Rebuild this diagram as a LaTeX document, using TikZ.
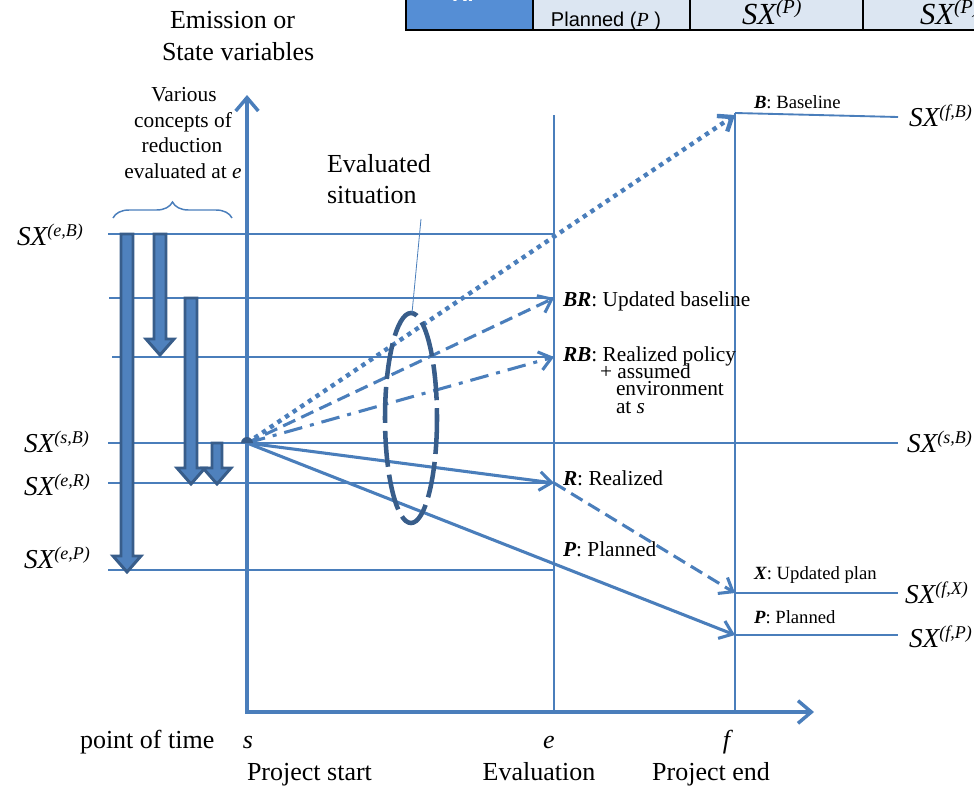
\documentclass[tikz,border=0pt]{standalone}
\usepackage{fontspec}
\setmainfont{Liberation Serif}
\setsansfont{Liberation Sans}
\usetikzlibrary{arrows.meta,decorations.pathreplacing}

\definecolor{lineblue}{HTML}{4A7EBB}
\definecolor{darkblue}{HTML}{385D8A}
\definecolor{fillblue}{HTML}{4F81BD}
\definecolor{cellblue}{HTML}{558ED5}
\definecolor{celllight}{HTML}{DCE6F2}

% state variable label  SX^(...)
\newcommand\sxlab[1]{{\fontsize{20.5}{24}\selectfont\itshape SX\raisebox{6.5pt}{\fontsize{13.5}{14}\selectfont(#1)}}}

\begin{document}
\begin{tikzpicture}[x=0.75pt,y=-0.75pt,
  every node/.style={inner sep=0pt,outer sep=0pt},
  grid/.style={lineblue,line width=1.9pt},
  timeline/.style={lineblue,line width=1.4pt},
  axis/.style={lineblue,line width=2.6pt,line join=miter,
    {Straight Barb[length=10pt,width=17pt]}-{Straight Barb[length=10pt,width=17pt]}},
  ray/.style={lineblue,line width=2.3pt,-{Straight Barb[length=9pt,width=14pt]}},
  dotray/.style={ray,line width=3.3pt,dash pattern=on 3.3pt off 3.6pt},
  dashray/.style={ray,dash pattern=on 10pt off 5pt},
  dashdotray/.style={ray,dash pattern=on 14pt off 6pt on 3pt off 6pt},
  blockarrow/.style={draw=darkblue,fill=fillblue,line width=2.2pt,line join=miter},
  situation/.style={darkblue,line width=3.4pt,dash pattern=on 27pt off 6pt},
  leader/.style={lineblue,line width=0.6pt},
  bracket/.style={lineblue,line width=1.1pt,decorate,decoration={brace,amplitude=12pt}},
  tablerule/.style={black,line width=2.2pt},
  biglab/.style={font=\fontsize{19.5}{23}\selectfont},
  midlab/.style={font=\fontsize{16}{19}\selectfont,anchor=base west},
  endlab/.style={font=\fontsize{14}{17}\selectfont,anchor=base west},
  sxnode/.style={anchor=base west}]

\useasboundingbox (0,0) rectangle (974,786);

% ---- table fragment along the top edge
\begin{scope}
  \clip (0,0) rectangle (974,786);
  \draw[tablerule,fill=cellblue]  (406,-40) rectangle (533,30);
  \draw[tablerule,fill=celllight] (533,-40) rectangle (690,30);
  \draw[tablerule,fill=celllight] (690,-40) rectangle (863,30);
  \draw[tablerule,fill=celllight] (863,-40) rectangle (1000,30);
  \node[anchor=base,text=white,font=\sffamily\bfseries\fontsize{16}{18}\selectfont] (tRP) at (467,1) {RP};
  \node[anchor=base,font=\sffamily\fontsize{15}{18}\selectfont] (tPlan) at (606,26) {Planned ({\rmfamily\itshape P} )};
  \node[anchor=base west,font=\fontsize{23}{26}\selectfont\itshape] (tSXa) at (742,24) {SX\raisebox{8pt}{\fontsize{15}{16}\selectfont(P)}};
  \node[anchor=base west,font=\fontsize{23}{26}\selectfont\itshape] (tSXb) at (920,24) {SX\raisebox{8pt}{\fontsize{15}{16}\selectfont(P)}};
\end{scope}

% ---- key points
\coordinate (O)   at (247,443);
\coordinate (eB)  at (554,234);
\coordinate (eBR) at (554,298);
\coordinate (eRB) at (554,357);
\coordinate (eR)  at (554,483);
\coordinate (eP)  at (554,570);
\coordinate (fB)  at (735,115);
\coordinate (fX)  at (735,593);
\coordinate (fP)  at (735,635);
\coordinate (wB)  at (108,234);
\coordinate (wBR) at (109,298);
\coordinate (wRB) at (112,357);
\coordinate (wS)  at (108,443);
\coordinate (wR)  at (108,483);
\coordinate (wP)  at (108,570);
\coordinate (rB)  at (898,117);
\coordinate (rS)  at (898,443);
\coordinate (rX)  at (898,593);
\coordinate (rP)  at (898,635);
\coordinate (eTop) at (554,115);
\coordinate (eBot) at (554,712);
\coordinate (fTop) at (735,113);
\coordinate (fBot) at (735,712);
\coordinate (yTip)   at (247,95);
\coordinate (corner) at (247,712);
\coordinate (xTip)   at (814,712);

% ---- level lines and time markers
\draw[grid] (wB)  -- (eB);
\draw[grid] (wBR) -- (eBR);
\draw[grid] (wRB) -- (eRB);
\draw[grid] (wS)  -- (rS);
\draw[grid] (wR)  -- (eR);
\draw[grid] (wP)  -- (eP);
\draw[timeline] (fTop) -- (rB);
\draw[timeline] (fX) -- (rX);
\draw[grid] (fP) -- (rP);
\draw[timeline] (eTop) -- (eBot);
\draw[timeline] (fTop) -- (fBot);

% ---- axes
\draw[axis] (yTip) -- (corner) -- (xTip);

% ---- reduction arrows
\foreach \x/\t/\b/\w in {127/234/572/6, 160/234/355/6, 191/298/484/6, 217/443/484/5}{
  \draw[blockarrow] (\x-\w,\t) -- (\x+\w,\t) -- (\x+\w,\b-16) -- (\x+14,\b-16)
    -- (\x,\b) -- (\x-14,\b-16) -- (\x-\w,\b-16) -- cycle;
}
\draw[bracket] (113,218) -- (232,218);

% ---- development paths from the project start
\draw[dotray]     (O) -- (fB);
\draw[dashray]    (O) -- (eBR);
\draw[dashdotray] (O) -- (eRB);
\draw[ray]        (O) -- (eR);
\draw[ray]        (O) -- (fP);
\draw[dashray]    (eR) -- (fX);
\fill[darkblue] (241,443) arc[start angle=180,end angle=360,radius=6] -- cycle;

% ---- evaluated situation
\draw[situation] (411,418) ellipse[x radius=26,y radius=105];
\coordinate (leadTop) at (421,219);
\coordinate (leadEnd) at (412,313);
\draw[leader] (leadTop) -- (leadEnd);
\node[biglab,anchor=base west] (evalA) at (327,172) {Evaluated};
\node[biglab,anchor=base west] (evalB) at (327,203) {situation};

% ---- axis titles
\node[biglab,anchor=base west] (ttlA) at (170,28) {Emission or};
\node[biglab,anchor=base west] (ttlB) at (162,60) {State variables};

\node[font=\fontsize{16}{19}\selectfont,anchor=base] (vcA) at (184,101) {Various};
\node[font=\fontsize{16}{19}\selectfont,anchor=base] (vcB) at (183,127) {concepts of};
\node[font=\fontsize{16}{19}\selectfont,anchor=base] (vcC) at (182,152) {reduction};
\node[font=\fontsize{16}{19}\selectfont,anchor=base] (vcD) at (183,178) {evaluated at \textit{e}};

% ---- left level labels
\node[sxnode] (lbEB) at (17,245) {\sxlab{e,B}};
\node[sxnode] (lbSB) at (24,452) {\sxlab{s,B}};
\node[sxnode] (lbER) at (24,495) {\sxlab{e,R}};
\node[sxnode] (lbEP) at (24,568) {\sxlab{e,P}};

% ---- right level labels
\node[sxnode] (lbFB) at (909,126) {\sxlab{f,B}};
\node[sxnode] (lbSB2) at (907,452) {\sxlab{s,B}};
\node[sxnode] (lbFX) at (905,603) {\sxlab{f,X}};
\node[sxnode] (lbFP) at (909,647) {\sxlab{f,P}};

% ---- path labels at the evaluation
\node[midlab] (labBR) at (563,306) {\textbf{\textit{BR}}: Updated baseline};
\node[midlab] (labRB) at (563,361) {\textbf{\textit{RB}}: Realized policy};
\node[midlab] (labRBa) at (600,378) {+ assumed};
\node[midlab] (labRBb) at (616,395) {environment};
\node[midlab] (labRBc) at (616,413) {at \textit{s}};
\node[midlab] (labR) at (563,485) {\textbf{\textit{R}}: Realized};
\node[midlab] (labP) at (563,556) {\textbf{\textit{P}}: Planned};

% ---- path labels at the project end
\node[endlab] (labB) at (754,108) {\textbf{\textit{B}}: Baseline};
\node[endlab] (labX) at (754,579) {\textbf{\textit{X}}: Updated plan};
\node[endlab] (labP2) at (754,623) {\textbf{\textit{P}}: Planned};

% ---- time axis labels
\node[biglab,anchor=base west] (tPoint) at (80,748) {point of time};
\node[biglab,anchor=base] (tS) at (248,748) {\textit{s}};
\node[biglab,anchor=base] (tE) at (549,748) {\textit{e}};
\node[biglab,anchor=base] (tF) at (728,748) {\textit{f}};
\node[biglab,anchor=base west] (tStart) at (247,780) {Project start};
\node[biglab,anchor=base] (tEval) at (539,780) {Evaluation};
\node[biglab,anchor=base] (tEnd) at (711,780) {Project end};
\end{tikzpicture}
\end{document}
